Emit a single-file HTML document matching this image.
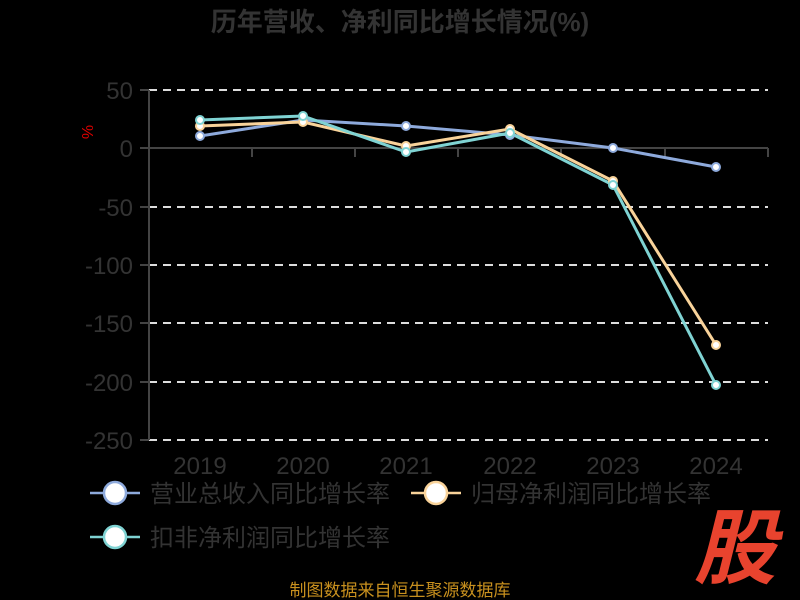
<!DOCTYPE html>
<html><head><meta charset="utf-8"><style>
body{margin:0;background:#000;}
svg{display:block;font-family:"Liberation Sans","Noto Sans CJK SC",sans-serif;}
</style></head><body>
<svg width="800" height="600" viewBox="0 0 800 600">
<rect width="800" height="600" fill="#000"/>
<text x="400" y="31" text-anchor="middle" font-size="26" font-weight="bold" fill="#333">历年营收、净利同比增长情况(%)</text>
<g stroke="#ddd" stroke-width="2" stroke-dasharray="8,6">
<line x1="149" y1="90" x2="768" y2="90"/>
<line x1="149" y1="207" x2="768" y2="207"/>
<line x1="149" y1="265" x2="768" y2="265"/>
<line x1="149" y1="323" x2="768" y2="323"/>
<line x1="149" y1="382" x2="768" y2="382"/>
<line x1="149" y1="440" x2="768" y2="440"/>
</g>
<g stroke="#444" stroke-width="2">
<line x1="149" y1="90" x2="149" y2="440"/>
<line x1="140" y1="148" x2="768" y2="148"/>
<line x1="140" y1="90" x2="149" y2="90"/><line x1="140" y1="207" x2="149" y2="207"/><line x1="140" y1="265" x2="149" y2="265"/><line x1="140" y1="323" x2="149" y2="323"/><line x1="140" y1="382" x2="149" y2="382"/><line x1="140" y1="440" x2="149" y2="440"/>
<line x1="252" y1="148" x2="252" y2="157"/><line x1="355" y1="148" x2="355" y2="157"/><line x1="458" y1="148" x2="458" y2="157"/><line x1="561" y1="148" x2="561" y2="157"/><line x1="665" y1="148" x2="665" y2="157"/><line x1="768" y1="148" x2="768" y2="157"/>
</g>
<g font-size="24" fill="#333" text-anchor="end">
<text x="133" y="99">50</text><text x="133" y="157">0</text><text x="133" y="216">-50</text><text x="133" y="274">-100</text><text x="133" y="332">-150</text><text x="133" y="391">-200</text><text x="133" y="449">-250</text>
</g>
<text x="0" y="0" font-size="16" fill="#d00" text-anchor="middle" transform="translate(82 132) rotate(90)">%</text>
<g font-size="24" fill="#333" text-anchor="middle">
<text x="200" y="474">2019</text><text x="303" y="474">2020</text><text x="406" y="474">2021</text><text x="510" y="474">2022</text><text x="613" y="474">2023</text><text x="716" y="474">2024</text>
</g>
<g fill="none" stroke-width="3" stroke-linejoin="round">
<polyline stroke="#8eaadc" points="200,136 303,120 406,126 510,135 613,148 716,167"/>
<polyline stroke="#f9d39a" points="200,126 303,122 406,146 510,129 613,181 716,345"/>
<polyline stroke="#7fd3d3" points="200,120 303,116 406,152 510,133 613,185 716,385"/>
</g>
<g fill="#fff" stroke-width="2">
<g stroke="#8eaadc"><circle cx="200" cy="136" r="4"/><circle cx="303" cy="120" r="4"/><circle cx="406" cy="126" r="4"/><circle cx="510" cy="135" r="4"/><circle cx="613" cy="148" r="4"/><circle cx="716" cy="167" r="4"/></g>
<g stroke="#f9d39a"><circle cx="200" cy="126" r="4"/><circle cx="303" cy="122" r="4"/><circle cx="406" cy="146" r="4"/><circle cx="510" cy="129" r="4"/><circle cx="613" cy="181" r="4"/><circle cx="716" cy="345" r="4"/></g>
<g stroke="#7fd3d3"><circle cx="200" cy="120" r="4"/><circle cx="303" cy="116" r="4"/><circle cx="406" cy="152" r="4"/><circle cx="510" cy="133" r="4"/><circle cx="613" cy="185" r="4"/><circle cx="716" cy="385" r="4"/></g>
</g>
<g stroke-width="2.5">
<line x1="90" y1="493" x2="140" y2="493" stroke="#8eaadc"/><circle cx="115" cy="493" r="11" fill="#fff" stroke="#8eaadc"/>
<line x1="411" y1="493" x2="461" y2="493" stroke="#f9d39a"/><circle cx="436" cy="493" r="11" fill="#fff" stroke="#f9d39a"/>
<line x1="90" y1="537" x2="140" y2="537" stroke="#7fd3d3"/><circle cx="115" cy="537" r="11" fill="#fff" stroke="#7fd3d3"/>
</g>
<g font-size="24" fill="#333">
<text x="150" y="502">营业总收入同比增长率</text>
<text x="471" y="502">归母净利润同比增长率</text>
<text x="150" y="546">扣非净利润同比增长率</text>
</g>
<text x="400" y="596" font-size="17" fill="#c8901e" text-anchor="middle">制图数据来自恒生聚源数据库</text>
<text x="735" y="577" font-size="82" font-weight="bold" font-style="italic" fill="#e8432e" text-anchor="middle">股</text>
</svg>
</body></html>
